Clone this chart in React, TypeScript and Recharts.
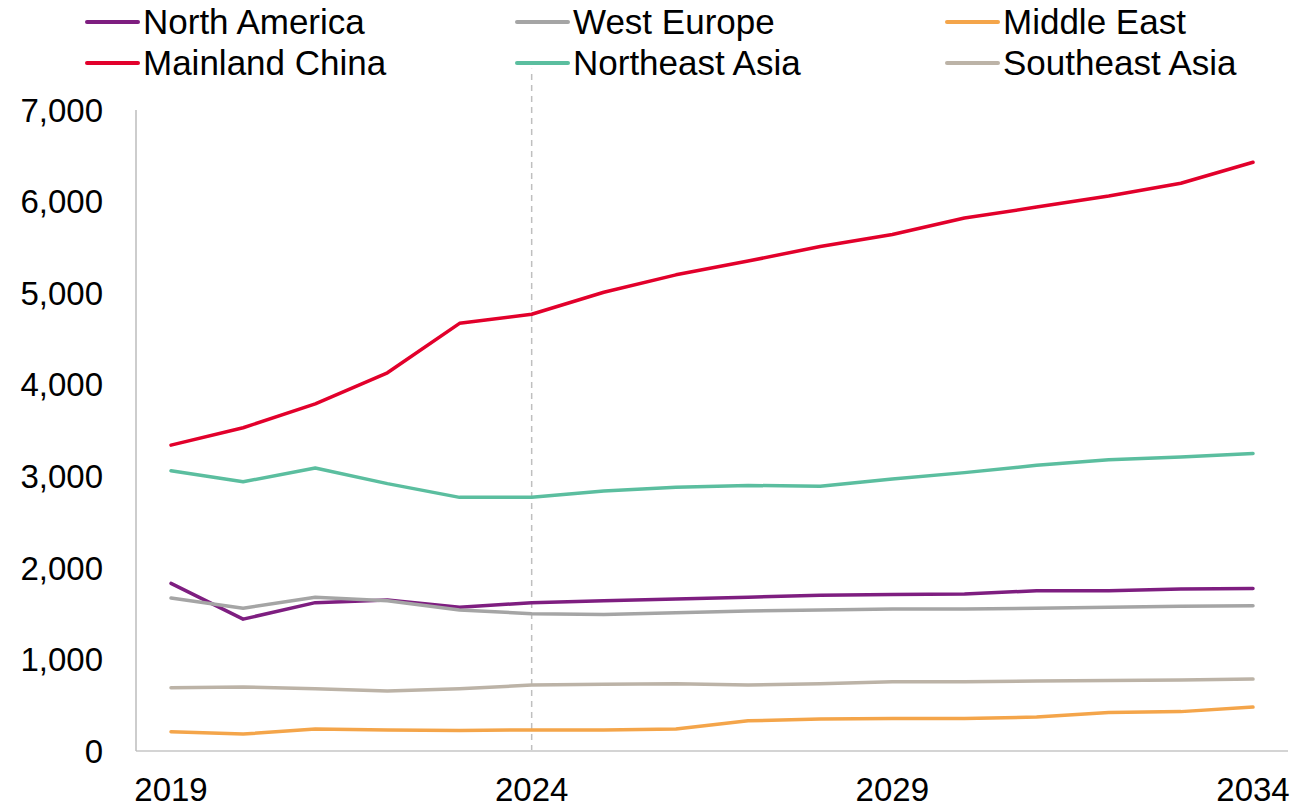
import { CartesianGrid, Legend, Line, LineChart, ReferenceLine, XAxis, YAxis } from 'recharts';

const YEARS = [2019, 2020, 2021, 2022, 2023, 2024, 2025, 2026, 2027, 2028, 2029, 2030, 2031, 2032, 2033, 2034];

const NORTH_AMERICA = [1830, 1440, 1620, 1650, 1570, 1620, 1640, 1660, 1680, 1700, 1710, 1715, 1750, 1750, 1770, 1775];
const WEST_EUROPE = [1670, 1560, 1680, 1640, 1540, 1500, 1490, 1510, 1530, 1540, 1550, 1550, 1560, 1570, 1580, 1585];
const MIDDLE_EAST = [210, 185, 240, 230, 225, 230, 230, 240, 330, 350, 355, 355, 370, 420, 430, 480];
const MAINLAND_CHINA = [3340, 3530, 3790, 4130, 4670, 4770, 5010, 5200, 5350, 5510, 5640, 5820, 5940, 6060, 6200, 6430];
const NORTHEAST_ASIA = [3060, 2940, 3090, 2920, 2770, 2770, 2840, 2880, 2900, 2890, 2970, 3040, 3120, 3180, 3210, 3250];
const SOUTHEAST_ASIA = [690, 700, 680, 655, 680, 720, 730, 735, 720, 735, 755, 755, 765, 770, 775, 785];

const Y_TICKS = [0, 1000, 2000, 3000, 4000, 5000, 6000, 7000];
const X_TICKS = [2019, 2024, 2029, 2034];

const SERIES = [
    { key: 'na', name: 'North America', values: NORTH_AMERICA, color: '#7E1E80' },
    { key: 'we', name: 'West Europe', values: WEST_EUROPE, color: '#A5A5A5' },
    { key: 'me', name: 'Middle East', values: MIDDLE_EAST, color: '#F4A54A' },
    { key: 'mc', name: 'Mainland China', values: MAINLAND_CHINA, color: '#E2002B' },
    { key: 'nea', name: 'Northeast Asia', values: NORTHEAST_ASIA, color: '#5BBE9F' },
    { key: 'sea', name: 'Southeast Asia', values: SOUTHEAST_ASIA, color: '#BCB3A7' },
];

const data = YEARS.map((year, i) => {
    const row: any = { year };
    SERIES.forEach((s) => {
        row[s.key] = s.values[i];
    });
    return row;
});

const FONT = '"Liberation Sans", Arial, sans-serif';

function ChartLegend() {
    return (
        <div style={{ position: 'relative', width: 1296, height: 110, fontFamily: FONT }}>
            {SERIES.map((s, i) => (
                <div
                    key={s.key}
                    style={{
                        position: 'absolute',
                        left: 85 + (i % 3) * 430,
                        top: 2 + Math.floor(i / 3) * 41,
                        height: 40,
                        display: 'flex',
                        alignItems: 'center',
                        whiteSpace: 'nowrap',
                    }}
                >
                    <div style={{ width: 55, height: 4, background: s.color, borderRadius: 2, marginRight: 3 }} />
                    <span style={{ fontSize: 35, color: '#000' }}>{s.name}</span>
                </div>
            ))}
        </div>
    );
}

export default function App() {
    return (
        <div style={{ position: 'absolute', left: 0, top: 0, width: 1296, height: 809, background: '#fff' }}>
            <LineChart width={1296} height={809} data={data} margin={{ top: 0, right: 8, bottom: 0, left: 0 }}>
                <CartesianGrid vertical={false} horizontal={false} />
                <Legend verticalAlign="top" align="left" content={() => <ChartLegend />} />
                <XAxis
                    dataKey="year"
                    ticks={X_TICKS}
                    interval={0}
                    height={58}
                    padding={{ left: 35, right: 35 }}
                    tickLine={false}
                    tickMargin={21}
                    axisLine={{ stroke: '#D4D4D4', strokeWidth: 2 }}
                    tick={{ fill: '#000', fontSize: 33, fontFamily: FONT }}
                />
                <YAxis
                    domain={[0, 7000]}
                    ticks={Y_TICKS}
                    width={136}
                    tickLine={false}
                    tickMargin={27}
                    allowDataOverflow
                    axisLine={{ stroke: '#BDBDBD', strokeWidth: 1.5 }}
                    tickFormatter={(v: number) => v.toLocaleString('en-US')}
                    tick={{ fill: '#000', fontSize: 33, fontFamily: FONT }}
                />
                <ReferenceLine
                    segment={[{ x: 2024, y: 0 }, { x: 2024, y: 7450 }]}
                    ifOverflow="visible"
                    stroke="#BFBFBF"
                    strokeWidth={1.5}
                    strokeDasharray="6 5"
                />
                {SERIES.map((s) => (
                    <Line
                        key={s.key}
                        type="linear"
                        dataKey={s.key}
                        name={s.name}
                        stroke={s.color}
                        strokeWidth={3.5}
                        strokeLinecap="round"
                        strokeLinejoin="round"
                        dot={false}
                        activeDot={false}
                        isAnimationActive={false}
                    />
                ))}
            </LineChart>
        </div>
    );
}
